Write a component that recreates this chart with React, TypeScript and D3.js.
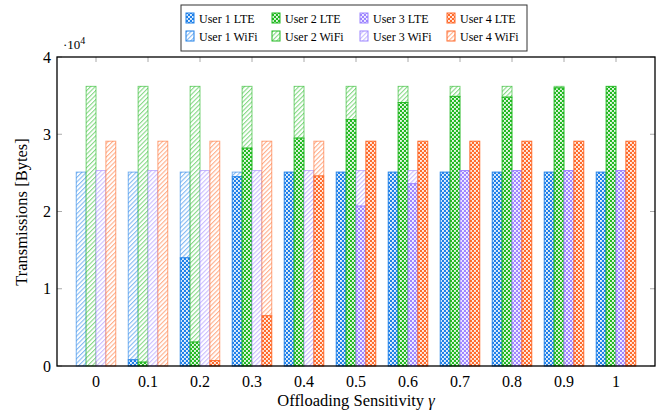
import React from "react";
import * as d3 from "d3";

const categories = [0, 0.1, 0.2, 0.3, 0.4, 0.5, 0.6, 0.7, 0.8, 0.9, 1];
const tickLabels = ["0", "0.1", "0.2", "0.3", "0.4", "0.5", "0.6", "0.7", "0.8", "0.9", "1"];
const yTicks = [0, 1, 2, 3, 4];
const users = ["User 1", "User 2", "User 3", "User 4"];
const colors = ["#1f80e8", "#22b922", "#9d86ff", "#ff6b2c"];

// values in units of 10^4 bytes
const user1LTE = [0, 0.08, 1.4, 2.45, 2.51, 2.51, 2.51, 2.51, 2.51, 2.51, 2.51];
const user1WiFi = [2.51, 2.43, 1.11, 0.06, 0, 0, 0, 0, 0, 0, 0];
const user2LTE = [0, 0.05, 0.31, 2.82, 2.95, 3.19, 3.41, 3.49, 3.48, 3.6, 3.62];
const user2WiFi = [3.62, 3.57, 3.31, 0.8, 0.67, 0.43, 0.21, 0.13, 0.14, 0.02, 0];
const user3LTE = [0, 0, 0, 0, 0, 2.07, 2.36, 2.53, 2.53, 2.53, 2.53];
const user3WiFi = [2.53, 2.53, 2.53, 2.53, 2.53, 0.46, 0.17, 0, 0, 0, 0];
const user4LTE = [0, 0, 0.07, 0.65, 2.46, 2.91, 2.91, 2.91, 2.91, 2.91, 2.91];
const user4WiFi = [2.91, 2.91, 2.84, 2.26, 0.45, 0, 0, 0, 0, 0, 0];

const lteData = [user1LTE, user2LTE, user3LTE, user4LTE];
const wifiData = [user1WiFi, user2WiFi, user3WiFi, user4WiFi];

const W = 667;
const H = 411;
const left = 57;
const right = 655;
const top = 57;
const bottom = 366;

const ts: React.CSSProperties = { fontFamily: "Liberation Serif" };

export default function App() {
  const x = d3.scaleLinear().domain([-0.075, 1.075]).range([left, right]);
  const y = d3.scaleLinear().domain([0, 4]).range([bottom, top]);
  const step = x(0.1) - x(0);
  const bw = step * 0.19;

  const bars: React.ReactNode[] = [];
  categories.forEach((c, ci) => {
    users.forEach((u, ui) => {
      const x0 = x(c) + (ui - 2) * bw;
      const lte = lteData[ui][ci];
      const wifi = wifiData[ui][ci];
      if (wifi > 0) {
        bars.push(
          <rect
            key={`w${ci}-${ui}`}
            x={x0}
            y={y(lte + wifi)}
            width={bw}
            height={y(lte) - y(lte + wifi)}
            fill={`url(#wifi${ui})`}
            stroke={colors[ui]}
            strokeOpacity={0.6}
            strokeWidth={1}
          />
        );
      }
      if (lte > 0) {
        bars.push(
          <rect
            key={`l${ci}-${ui}`}
            x={x0}
            y={y(lte)}
            width={bw}
            height={y(0) - y(lte)}
            fill={`url(#lte${ui})`}
            stroke={colors[ui]}
            strokeWidth={1}
          />
        );
      }
    });
  });

  const legendX = [186, 272, 360, 447];
  const legendRows = [19, 37];

  return (
    <svg width={W} height={H} style={{ position: "absolute", left: 0, top: 0 }}>
      <defs>
        {colors.map((col, i) => (
          <React.Fragment key={i}>
            <pattern id={`lte${i}`} patternUnits="userSpaceOnUse" width={4} height={4}>
              <rect width={4} height={4} fill={col} />
              <rect x={0} y={0} width={1.9} height={1.9} fill="#fff" fillOpacity={0.9} />
              <rect x={2} y={2} width={1.9} height={1.9} fill="#fff" fillOpacity={0.9} />
            </pattern>
            <pattern
              id={`wifi${i}`}
              patternUnits="userSpaceOnUse"
              width={3.2}
              height={3.2}
              patternTransform="rotate(45)"
            >
              <rect width={3.2} height={3.2} fill="#fff" />
              <rect width={1.1} height={3.2} fill={col} fillOpacity={0.55} />
            </pattern>
          </React.Fragment>
        ))}
      </defs>

      {bars}

      {categories.map((c, i) => (
        <g key={`xt${i}`} stroke="#aaa" strokeWidth={1}>
          <line x1={x(c)} x2={x(c)} y1={bottom} y2={bottom - 5} />
          <line x1={x(c)} x2={x(c)} y1={top} y2={top + 5} />
        </g>
      ))}
      {yTicks.map((t, i) => (
        <g key={`yt${i}`} stroke="#aaa" strokeWidth={1}>
          <line x1={left} x2={left + 5} y1={y(t)} y2={y(t)} />
          <line x1={right} x2={right - 5} y1={y(t)} y2={y(t)} />
        </g>
      ))}

      <rect x={left} y={top} width={right - left} height={bottom - top} fill="none" stroke="#000" strokeWidth={1.3} />

      {categories.map((c, i) => (
        <text key={`xl${i}`} style={ts} x={x(c)} y={387} textAnchor="middle" fontSize={16}>
          {tickLabels[i]}
        </text>
      ))}
      {yTicks.map((t, i) => (
        <text key={`yl${i}`} style={ts} x={left - 6} y={y(t) + 5.5} textAnchor="end" fontSize={16}>
          {t}
        </text>
      ))}
      <text style={ts} x={63} y={49} fontSize={13}>
        ·10
        <tspan dy={-5} fontSize={10}>4</tspan>
      </text>

      <text style={ts} x={356} y={406} textAnchor="middle" fontSize={16.5}>
        Offloading Sensitivity <tspan fontStyle="italic">γ</tspan>
      </text>
      <text style={ts} transform="translate(27,212) rotate(-90)" textAnchor="middle" fontSize={16.5}>
        Transmissions [Bytes]
      </text>

      <rect x={181} y={5} width={346} height={46} fill="#fff" stroke="#333" strokeWidth={1} />
      {users.map((u, i) => (
        <g key={`lg${i}`}>
          <rect x={legendX[i]} y={legendRows[0] - 6} width={8} height={10} fill={`url(#lte${i})`} stroke={colors[i]} strokeWidth={1} />
          <text style={ts} x={legendX[i] + 13} y={legendRows[0] + 4} fontSize={12}>
            {u} LTE
          </text>
          <rect x={legendX[i]} y={legendRows[1] - 6} width={8} height={10} fill={`url(#wifi${i})`} stroke={colors[i]} strokeWidth={1} />
          <text style={ts} x={legendX[i] + 13} y={legendRows[1] + 4} fontSize={12}>
            {u} WiFi
          </text>
        </g>
      ))}
    </svg>
  );
}
